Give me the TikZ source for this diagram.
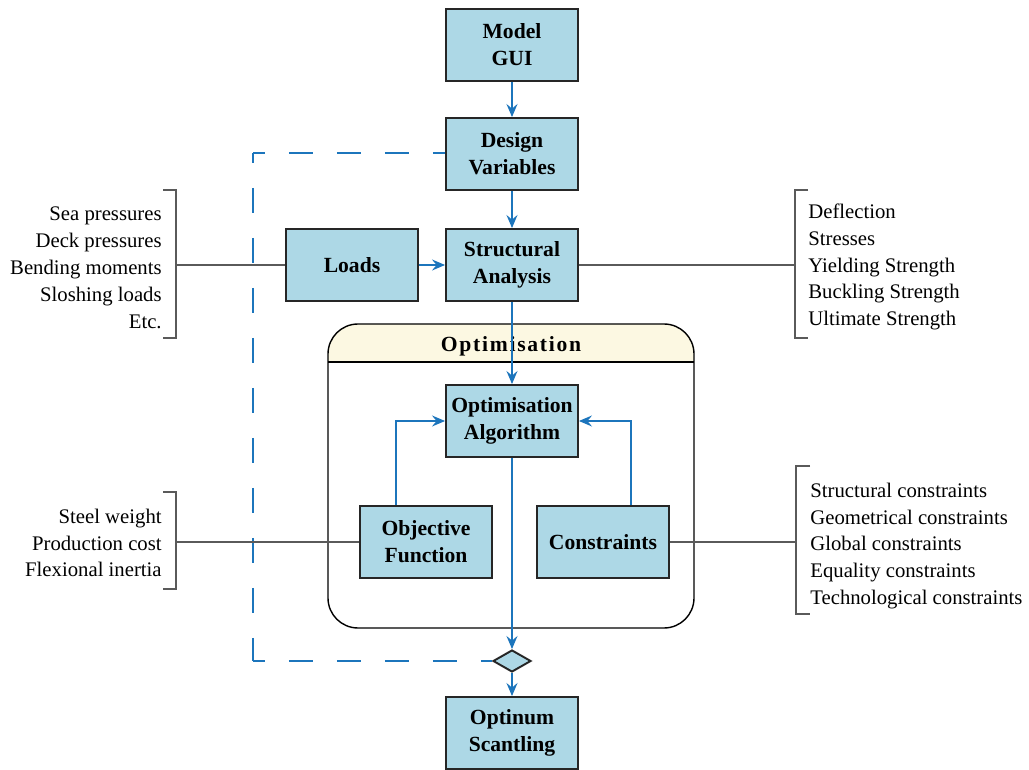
\documentclass[tikz,border=0pt]{standalone}
\usepackage{fontspec}
\setmainfont{Liberation Serif}
\usetikzlibrary{shapes.geometric,arrows.meta}
\definecolor{boxblue}{RGB}{173,216,230}
\definecolor{flowblue}{RGB}{28,117,188}
\definecolor{headcream}{RGB}{252,248,226}
\definecolor{bracegray}{RGB}{90,90,90}

\begin{document}
\begin{tikzpicture}[x=0.02cm,y=-0.02cm,
  block/.style={draw=black!85,line width=1.1pt,fill=boxblue,minimum width=2.64cm,minimum height=1.44cm,inner sep=0,align=center,font=\fontsize{12.3}{15.3}\selectfont\bfseries},
  flow/.style={flowblue,line width=0.85pt,-{Stealth[length=2.6mm,width=2.2mm,inset=0.9mm]}},
  feedback/.style={flowblue,line width=0.85pt,dash pattern=on 0.48cm off 0.48cm,dash phase=0.24cm},
  feedbackv/.style={flowblue,line width=0.85pt,dash pattern=on 0.5cm off 0.5cm,dash phase=0.3cm},
  bracket/.style={bracegray,line width=0.6pt},
  listing/.style={inner sep=0,font=\fontsize{11.8}{15.3}\selectfont}]
\useasboundingbox (0,0) rectangle (1029,770);
\begin{scope}
\clip[rounded corners=0.6cm] (328,324) rectangle (694,628);
\fill[headcream] (328,324) rectangle (694,362);
\end{scope}
\draw[line width=0.7pt] (328,362) -- (694,362);
\draw[line width=0.8pt,rounded corners=0.6cm] (328,324) rectangle (694,628);
\node[font=\fontsize{12.3}{15.3}\selectfont\bfseries\addfontfeatures{LetterSpace=8}] (opttitle) at (511,346) {Optimisation};
\node[block] (model) at (512,45) {Model\\GUI};
\node[block] (design) at (512,154) {Design\\Variables};
\node[block] (struct) at (512,265) {Structural\\Analysis};
\node[block] (loads) at (352,265) {Loads};
\node[block] (optalg) at (512,421) {Optimisation\\Algorithm};
\node[block] (objfun) at (426,542) {Objective\\Function};
\node[block] (constr) at (603,542) {Constraints};
\node[block] (optimum) at (512,733) {Optinum\\Scantling};
\node[diamond,draw=black!85,line width=1.1pt,fill=boxblue,minimum width=0.76cm,minimum height=0.44cm,inner sep=0] (check) at (512,661) {};
\coordinate (fbtop) at (253,153);
\coordinate (fbbot) at (253,661);
\draw[flow] (model) -- (design);
\draw[flow] (design) -- (struct);
\draw[flow] (loads) -- (struct);
\draw[flow] (struct) -- (optalg);
\draw[flow] ([xshift=-0.6cm]objfun.north) |- (optalg.west);
\draw[flow] ([xshift=0.56cm]constr.north) |- (optalg.east);
\draw[flow] (optalg) -- (check);
\draw[flow] (check) -- (optimum);
\draw[feedback] (fbtop) -- (fbtop -| design.west);
\draw[feedbackv] (fbtop) -- (fbbot);
\draw[feedback] (fbbot) -- (check.west);
\node[listing,anchor=east,align=right] (loadlist) at (162,268) {Sea pressures\\Deck pressures\\Bending moments\\Sloshing loads\\Etc.};
\node[listing,anchor=west,align=left] (resultlist) at (808,267) {Deflection\\Stresses\\Yielding Strength\\Buckling Strength\\Ultimate Strength};
\node[listing,anchor=east,align=right] (objlist) at (162,543) {Steel weight\\Production cost\\Flexional inertia};
\node[listing,anchor=west,align=left] (conlist) at (810,546) {Structural constraints\\Geometrical constraints\\Global constraints\\Equality constraints\\Technological constraints};
\coordinate (lb1) at (176,265);
\coordinate (rb1) at (795,265);
\coordinate (lb2) at (176,542);
\coordinate (rb2) at (796,542);
\draw[bracket] (163,190) -- (176,190) -- (176,338) -- (163,338);
\draw[bracket] (808,190) -- (795,190) -- (795,338) -- (808,338);
\draw[bracket] (163,492) -- (176,492) -- (176,589) -- (163,589);
\draw[bracket] (810,466) -- (796,466) -- (796,614) -- (810,614);
\draw[bracket] (lb1) -- (loads.west);
\draw[bracket] (struct.east) -- (rb1);
\draw[bracket] (lb2) -- (objfun.west);
\draw[bracket] (constr.east) -- (rb2);
\end{tikzpicture}
\end{document}
